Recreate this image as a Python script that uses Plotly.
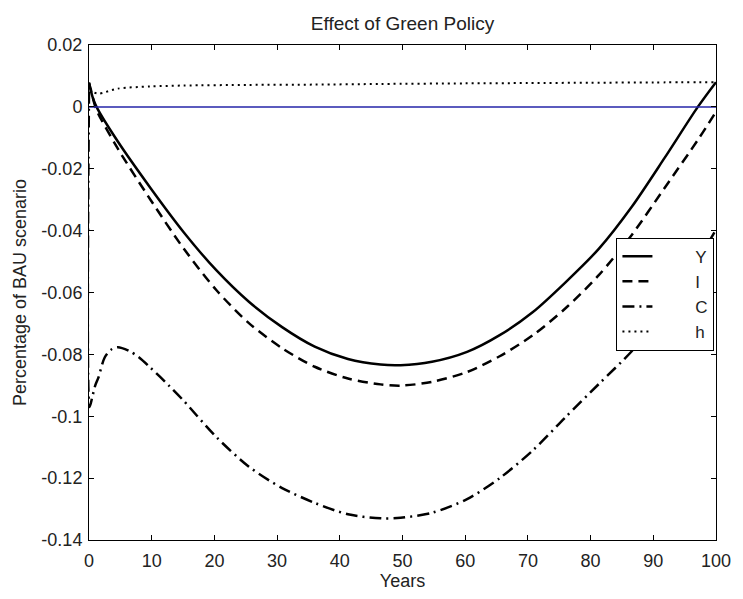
import plotly.graph_objects as go

# ---- data ----
t_Y = [0, 0.6, 1.2, 4.6, 9.8, 15.1, 20.3, 25.5, 30.8, 36, 41.3, 46.5, 49.7, 54.7, 60.3, 65.5, 70.8, 76, 81.3, 86.6, 91.8, 97.1, 100]
Y = [0.0078, 0.003, 0.0, -0.0112, -0.0262, -0.0405, -0.0528, -0.063, -0.0712, -0.0775, -0.0815, -0.0833, -0.0835, -0.0824, -0.0792, -0.0738, -0.0663, -0.0567, -0.0459, -0.0322, -0.0165, 0.0, 0.008]

t_I = [0, 0.6, 1.2, 4.6, 9.8, 15.1, 20.3, 25.5, 30.8, 36, 41.3, 46.5, 49.7, 54.7, 60.3, 65.5, 70.8, 76, 81.3, 86.6, 91.8, 97.1, 100]
I = [0.0078, 0.003, -0.001, -0.0135, -0.0300, -0.0458, -0.0592, -0.0699, -0.0780, -0.0840, -0.0878, -0.0897, -0.0901, -0.0889, -0.0857, -0.0806, -0.0738, -0.0651, -0.0544, -0.0413, -0.0262, -0.0107, -0.0016]

t_C = [0, 0.1, 0.5, 1.0, 1.5, 2.5, 3.5, 4.6, 6.5, 8.0, 9.8, 12.7, 15.1, 20.3, 25.5, 30.8, 36, 41.3, 46.5, 49.7, 54.7, 60.3, 65.5, 70.8, 76, 81.3, 86.6, 91.8, 97.1, 100]
C = [0.005, -0.097, -0.094, -0.09, -0.0875, -0.081, -0.0785, -0.0777, -0.079, -0.081, -0.0843, -0.09, -0.095, -0.1067, -0.1163, -0.1232, -0.128, -0.1317, -0.1330, -0.1328, -0.1312, -0.1268, -0.1200, -0.1110, -0.1003, -0.0896, -0.0789, -0.0660, -0.0496, -0.0397]

t_h = [0, 0.5, 1.5, 4.6, 9.8, 15.1, 25.5, 36, 46.5, 60, 70, 80, 90, 100]
h = [0.0078, 0.005, 0.0043, 0.0059, 0.0066, 0.0069, 0.0071, 0.0072, 0.0074, 0.0076, 0.0077, 0.0078, 0.0079, 0.0080]

t_zero = [0, 100]
zero = [0, 0]

x_ticks = [0, 10, 20, 30, 40, 50, 60, 70, 80, 90, 100]
y_ticks = [0.02, 0, -0.02, -0.04, -0.06, -0.08, -0.1, -0.12, -0.14]
y_ticktext = ["0.02", "0", "-0.02", "-0.04", "-0.06", "-0.08", "-0.1", "-0.12", "-0.14"]

names = ["Y", "I", "C", "h"]
PAD = "\u00a0" * 8

FONT = "Liberation Sans, Arial, sans-serif"

fig = go.Figure()
fig.add_trace(go.Scatter(x=t_Y, y=Y, mode="lines", name=PAD + names[0], line=dict(color="black", width=2.5, shape="spline", smoothing=0.8)))
fig.add_trace(go.Scatter(x=t_I, y=I, mode="lines", name=PAD + names[1], line=dict(color="black", width=2.5, dash="10px,6px", shape="spline", smoothing=0.8)))
fig.add_trace(go.Scatter(x=t_C, y=C, mode="lines", name=PAD + names[2], line=dict(color="black", width=2.5, dash="12px,5px,2px,5px", shape="spline", smoothing=0.8)))
fig.add_trace(go.Scatter(x=t_h, y=h, mode="lines", name=PAD + names[3], line=dict(color="black", width=2, dash="2px,4px", shape="spline", smoothing=0.8)))
fig.add_trace(go.Scatter(x=t_zero, y=zero, mode="lines", showlegend=False, line=dict(color="#2424a8", width=1.5)))

fig.update_layout(
    width=743, height=599,
    margin=dict(l=89, r=18, t=45, b=53),
    paper_bgcolor="white", plot_bgcolor="white",
    font=dict(family=FONT, size=18, color="#222"),
    title=dict(text="Effect of Green Policy", x=0.5, xref="paper", xanchor="center",
               y=1 - 23 / 599, yref="container", yanchor="middle", font=dict(size=19)),
    showlegend=True,
    legend=dict(x=(624 - 89) / 636, xref="paper", xanchor="left",
                y=1 - (240 - 45) / 501, yanchor="top",
                bgcolor="white", bordercolor="black", borderwidth=1,
                font=dict(size=17), itemwidth=30, tracegroupgap=0),
    xaxis=dict(range=[0, 100], tickvals=x_ticks, ticks="inside", ticklen=5, tickcolor="black",
               showline=True, linecolor="black", linewidth=1, mirror="ticks", showgrid=False, zeroline=False,
               ticklabelstandoff=4,
               title=dict(text="Years", standoff=4, font=dict(size=18))),
    yaxis=dict(range=[-0.14, 0.02], tickvals=y_ticks, ticktext=y_ticktext, ticks="inside", ticklen=5,
               tickcolor="black", showline=True, linecolor="black", linewidth=1, mirror="ticks",
               showgrid=False, zeroline=False, ticklabelstandoff=2,
               title=dict(text="Percentage of BAU scenario", standoff=10, font=dict(size=18))),
)

fig.write_html("out.html")
